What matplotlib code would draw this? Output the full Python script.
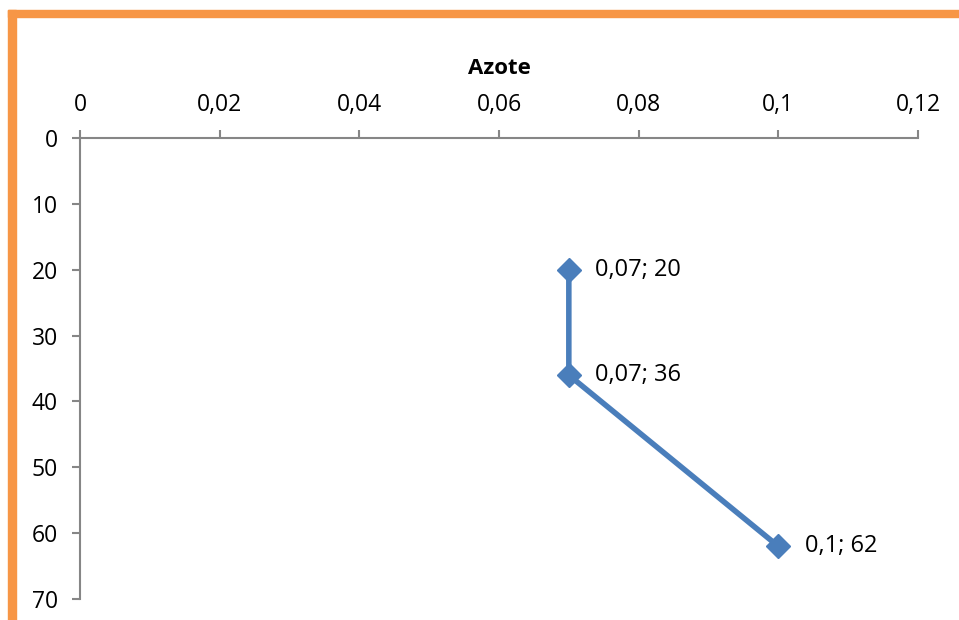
import matplotlib
matplotlib.use("Agg")
import matplotlib.pyplot as plt
from matplotlib.patches import Rectangle
from matplotlib.ticker import FuncFormatter

# Data
azote = [0.07, 0.07, 0.1]
depth = [20, 36, 62]
x_ticks = [0, 0.02, 0.04, 0.06, 0.08, 0.1, 0.12]
y_ticks = [0, 10, 20, 30, 40, 50, 60, 70]
title = "Azote"

plt.rcParams['font.family'] = ['Open Sans', 'DejaVu Sans']

fig = plt.figure(figsize=(9.59, 6.2), dpi=100)
W, H = 959, 620

# Orange frame (top and left)
fig.patches.append(Rectangle((8 / W, 1 - 17 / H), 1 - 8 / W, 7 / H,
                             transform=fig.transFigure, color='#F79646', zorder=0))
fig.patches.append(Rectangle((8 / W, 0), 8 / W, 1 - 10 / H,
                             transform=fig.transFigure, color='#F79646', zorder=0))

ax = fig.add_axes([80 / W, 1 - 599 / H, (918 - 80) / W, (599 - 138) / H])
ax.set_facecolor('none')

line_color = '#4A7EBB'
ax.plot(azote, depth, color=line_color, lw=4, marker='D', ms=12,
        markerfacecolor=line_color, markeredgecolor=line_color, clip_on=False, zorder=3)

def fmt(v):
    s = ('%g' % v).replace('.', ',')
    return s

for x, y in zip(azote, depth):
    ax.annotate(f"{fmt(x)}; {fmt(y)}", (x, y), xytext=(19, 0), textcoords='offset points',
                va='center', ha='left', fontsize=17, color='black')

ax.set_xlim(0, 0.12)
ax.set_ylim(70, 0)
ax.set_xticks(x_ticks)
ax.set_yticks(y_ticks)
ax.xaxis.set_major_formatter(FuncFormatter(lambda v, p: fmt(round(v, 4))))
ax.yaxis.set_major_formatter(FuncFormatter(lambda v, p: fmt(v)))
ax.xaxis.tick_top()
ax.xaxis.set_label_position('top')

for side in ['right', 'bottom']:
    ax.spines[side].set_visible(False)
for side in ['top', 'left']:
    ax.spines[side].set_color('#868686')
    ax.spines[side].set_linewidth(1.5)

ax.tick_params(axis='both', colors='#868686', labelcolor='black', labelsize=16.5,
               length=6, width=1.5, direction='out')
ax.tick_params(axis='x', pad=9)
ax.tick_params(axis='y', pad=10)

ax.set_xlabel(title, fontsize=16, fontweight='bold', labelpad=14)

fig.savefig('out.png', dpi=100)
